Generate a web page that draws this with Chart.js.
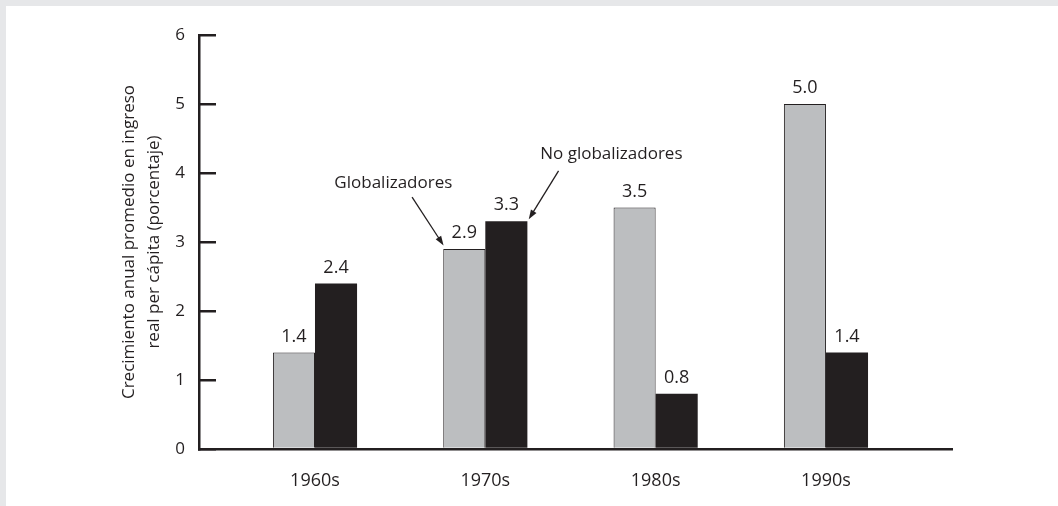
<!DOCTYPE html>
<html>
<head>
<meta charset="utf-8">
<script src="https://cdn.jsdelivr.net/npm/chart.js@4.4.0/dist/chart.umd.min.js"></script>
<style>
    html, body { margin: 0; padding: 0; background: #fff; }
    .frame {
        width: 1052px;
        height: 500px;
        border-left: 6px solid #e6e7e9;
        border-top: 6px solid #e6e7e9;
    }
    canvas { display: block; }
</style>
</head>
<body>
<div class="frame">
    <canvas id="growthChart" width="1052" height="500"></canvas>
</div>
<script>
// Data
const decades = ['1960s', '1970s', '1980s', '1990s'];
const globalizers = [1.4, 2.9, 3.5, 5.0];
const nonGlobalizers = [2.4, 3.3, 0.8, 1.4];
const yTicks = [0, 1, 2, 3, 4, 5, 6];
const yTitle = ['Crecimiento anual promedio en ingreso', 'real per cápita (porcentaje)'];

// Callouts, placed in data units (x = decade position, y = percent)
const callouts = [
    { text: 'Globalizadores', tx: 1.46, ty: 3.86, from: [1.57, 3.65], to: [1.755, 2.95] },
    { text: 'No globalizadores', tx: 2.74, ty: 4.27, from: [2.43, 4.03], to: [2.255, 3.33] }
];

const ink = '#231f20';
const grey = '#bcbec0';
const fontFamily = '"Open Sans", "Noto Sans", sans-serif';

const positions = decades.map((d, i) => i + 1);

const valueLabels = {
    id: 'valueLabels',
    afterDatasetsDraw(chart) {
        const ctx = chart.ctx;
        ctx.save();
        ctx.fillStyle = ink;
        ctx.font = '18px ' + fontFamily;
        ctx.textAlign = 'center';
        ctx.textBaseline = 'bottom';
        chart.data.datasets.forEach((ds, di) => {
            const meta = chart.getDatasetMeta(di);
            meta.data.forEach((bar, i) => {
                ctx.fillText(ds.data[i].y.toFixed(1), bar.x, bar.y - 7);
            });
        });
        ctx.restore();
    }
};

const calloutPlugin = {
    id: 'callouts',
    afterDraw(chart) {
        const ctx = chart.ctx;
        const xs = chart.scales.x;
        const ys = chart.scales.y;
        ctx.save();
        ctx.fillStyle = ink;
        ctx.strokeStyle = ink;
        ctx.font = '17px ' + fontFamily;
        ctx.textAlign = 'center';
        ctx.textBaseline = 'middle';
        callouts.forEach(c => {
            ctx.fillText(c.text, xs.getPixelForValue(c.tx), ys.getPixelForValue(c.ty));
            const x1 = xs.getPixelForValue(c.from[0]);
            const y1 = ys.getPixelForValue(c.from[1]);
            const x2 = xs.getPixelForValue(c.to[0]);
            const y2 = ys.getPixelForValue(c.to[1]);
            const ang = Math.atan2(y2 - y1, x2 - x1);
            const head = 10;
            ctx.lineWidth = 1.3;
            ctx.beginPath();
            ctx.moveTo(x1, y1);
            ctx.lineTo(x2 - Math.cos(ang) * head * 0.8, y2 - Math.sin(ang) * head * 0.8);
            ctx.stroke();
            ctx.beginPath();
            ctx.moveTo(x2, y2);
            ctx.lineTo(x2 - head * Math.cos(ang - 0.33), y2 - head * Math.sin(ang - 0.33));
            ctx.lineTo(x2 - head * Math.cos(ang + 0.33), y2 - head * Math.sin(ang + 0.33));
            ctx.closePath();
            ctx.fill();
        });
        ctx.restore();
    }
};

const ctx = document.getElementById('growthChart').getContext('2d');
const growthChart = new Chart(ctx, {
    type: 'bar',
    data: {
        datasets: [
            {
                label: 'Globalizadores',
                data: positions.map((x, i) => ({ x: x, y: globalizers[i] })),
                backgroundColor: grey,
                borderColor: ink,
                borderWidth: 1,
                borderSkipped: 'bottom'
            },
            {
                label: 'No globalizadores',
                data: positions.map((x, i) => ({ x: x, y: nonGlobalizers[i] })),
                backgroundColor: ink,
                borderWidth: 0
            }
        ]
    },
    options: {
        responsive: false,
        animation: false,
        categoryPercentage: 0.494,
        barPercentage: 1,
        layout: {
            padding: { left: 110, top: 29, right: 106, bottom: 0 }
        },
        plugins: {
            legend: { display: false },
            tooltip: { enabled: false }
        },
        scales: {
            x: {
                type: 'linear',
                offset: false,
                min: 0.319,
                max: 4.74,
                grid: { display: false, drawTicks: false },
                border: { display: true, color: ink, width: 2.5 },
                afterBuildTicks: function(axis) {
                    axis.ticks = positions.map(v => ({ value: v }));
                },
                afterFit: function(axis) {
                    axis.height = 57;
                },
                ticks: {
                    color: ink,
                    padding: 21,
                    font: { family: fontFamily, size: 18 },
                    callback: function(value) {
                        return decades[value - 1];
                    }
                }
            },
            y: {
                min: 0,
                max: 6,
                afterBuildTicks: function(axis) {
                    axis.ticks = yTicks.map(v => ({ value: v }));
                },
                afterFit: function(axis) {
                    axis.width = 83;
                    // the inward ticks need a big label padding; keep it out of the top gap
                    axis.paddingTop = 0;
                    axis.paddingBottom = 0;
                },
                grid: {
                    drawOnChartArea: false,
                    tickLength: -17,
                    color: ink,
                    lineWidth: 2.5
                },
                border: { display: true, color: ink, width: 2.5 },
                ticks: {
                    color: ink,
                    padding: 31,
                    font: { family: fontFamily, size: 17 }
                },
                title: {
                    display: true,
                    text: yTitle,
                    color: ink,
                    font: { family: fontFamily, size: 17, lineHeight: 1.5 },
                    padding: 0
                }
            }
        }
    },
    plugins: [valueLabels, calloutPlugin]
});
</script>
</body>
</html>
